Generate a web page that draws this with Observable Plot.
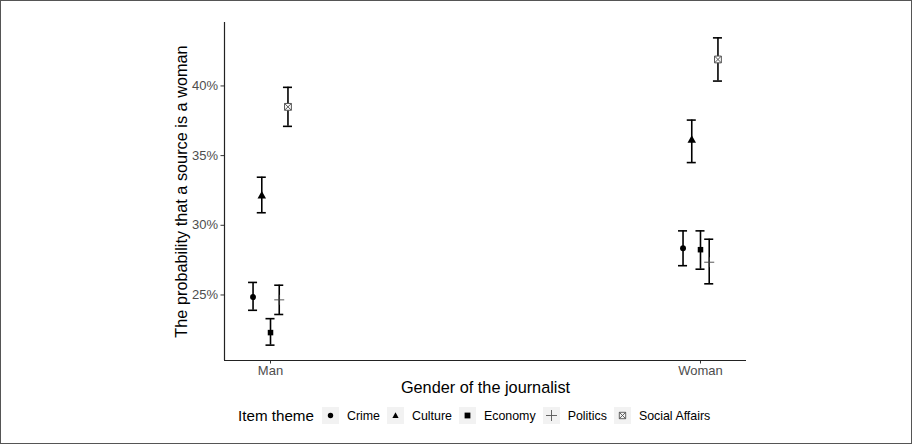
<!DOCTYPE html>
<html>
<head>
<meta charset="utf-8">
<script src="https://cdn.jsdelivr.net/npm/d3@7"></script>
<script src="https://cdn.jsdelivr.net/npm/@observablehq/plot@0.6"></script>
<style>
  html, body { margin: 0; padding: 0; background: #fff; }
  #wrap { position: relative; width: 912px; height: 444px; box-sizing: border-box; border: 1px solid #555; font-family: "Liberation Sans", Arial, sans-serif; overflow: hidden; }
  #legend { position: absolute; left: 237px; top: 406px; display: flex; align-items: center; font-family: "Liberation Sans", Arial, sans-serif; }
  #legend .title { font-size: 15.2px; color: #000; margin-right: 8px; }
  #legend .key { width: 17px; height: 17px; background: #F2F2F2; display: flex; align-items: center; justify-content: center; }
  #legend .lab { font-size: 12.4px; color: #000; margin: 0 7px 0 8px; }
</style>
</head>
<body>
<div id="wrap"><div id="chart"></div><div id="legend"></div></div>
<script>
const genders = ["Man", "Woman"];
const themes = ["Crime", "Culture", "Economy", "Politics", "Social Affairs"];
const estMan   = [0.2485, 0.3210, 0.2230, 0.2465, 0.3850];
const loMan    = [0.2390, 0.3090, 0.2140, 0.2360, 0.3710];
const hiMan    = [0.2590, 0.3345, 0.2330, 0.2570, 0.3990];
const estWoman = [0.2835, 0.3610, 0.2825, 0.2735, 0.4190];
const loWoman  = [0.2710, 0.3450, 0.2685, 0.2580, 0.4035];
const hiWoman  = [0.2960, 0.3755, 0.2960, 0.2900, 0.4345];
const yTicks = [0.25, 0.30, 0.35, 0.40];
const xTitle = "Gender of the journalist";
const yTitle = "The probability that a source is a woman";
const legendTitle = "Item theme";

const est = [estMan, estWoman], lo = [loMan, loWoman], hi = [hiMan, hiWoman];
const dodge = 0.0203;
const rows = [];
genders.forEach((g, gi) => themes.forEach((t, ti) => {
  rows.push({gender: g, theme: t, x: gi + (ti - 2) * dodge, est: est[gi][ti], lo: lo[gi][ti], hi: hi[gi][ti]});
}));

const allLo = d3.min(rows, d => d.lo), allHi = d3.max(rows, d => d.hi);
const pad = (allHi - allLo) * 0.05;
const yDomain = [allLo - pad, allHi + pad];
const xDomain = [-0.107, 1.107];
const cap = 0.0105;

const plusSym = {draw(ctx, size) { const r = Math.sqrt(size / Math.PI); ctx.moveTo(-r, 0); ctx.lineTo(r, 0); ctx.moveTo(0, -r); ctx.lineTo(0, r); }};
const sqCross = {draw(ctx, size) { const r = Math.sqrt(size / Math.PI); ctx.moveTo(-r, -r); ctx.lineTo(r, -r); ctx.lineTo(r, r); ctx.lineTo(-r, r); ctx.closePath(); ctx.moveTo(-r, -r); ctx.lineTo(r, r); ctx.moveTo(r, -r); ctx.lineTo(-r, r); }};
const filledSym = {"Crime": "circle", "Culture": "triangle", "Economy": "square"};
const filledR = {"Crime": 2.9, "Culture": 3.3, "Economy": 3.2};

const filled = rows.filter(d => filledSym[d.theme]);
const plus = rows.filter(d => d.theme === "Politics");
const social = rows.filter(d => d.theme === "Social Affairs");

const plot = Plot.plot({
  width: 910,
  height: 400,
  marginLeft: 223,
  marginRight: 165,
  marginTop: 21,
  marginBottom: 41,
  style: {fontFamily: "'Liberation Sans', Arial, sans-serif", background: "transparent"},
  x: {domain: xDomain, axis: null},
  y: {domain: yDomain, axis: null},
  marks: [
    Plot.axisY({ticks: yTicks, tickFormat: d3.format(".0%"), tickSize: 3.5, tickPadding: 3, fontSize: 13, color: "#4D4D4D", stroke: "#333", label: null}),
    Plot.axisX({ticks: [0, 1], tickFormat: i => genders[i], tickSize: 3.5, tickPadding: 2, fontSize: 13, color: "#4D4D4D", stroke: "#333", label: null}),
    Plot.ruleX([xDomain[0]], {stroke: "#222", strokeWidth: 1.2}),
    Plot.ruleY([yDomain[0]], {stroke: "#222", strokeWidth: 1.2}),
    Plot.ruleX(rows, {x: "x", y1: "lo", y2: "hi", stroke: "#000", strokeWidth: 1.6}),
    Plot.ruleY(rows, {y: "lo", x1: d => d.x - cap, x2: d => d.x + cap, stroke: "#000", strokeWidth: 1.6}),
    Plot.ruleY(rows, {y: "hi", x1: d => d.x - cap, x2: d => d.x + cap, stroke: "#000", strokeWidth: 1.6}),
    Plot.dot(filled, {x: "x", y: "est", symbol: d => filledSym[d.theme], r: d => filledR[d.theme], fill: "#000", stroke: "none"}),
    Plot.dot(plus, {x: "x", y: "est", symbol: plusSym, r: 5, fill: "none", stroke: "#444", strokeWidth: 0.9}),
    Plot.dot(social, {x: "x", y: "est", symbol: sqCross, r: 3.4, fill: "#fff", stroke: "#555", strokeWidth: 1}),
    Plot.text([yTitle], {text: d => d, frameAnchor: "left", textAnchor: "middle", lineAnchor: "middle", dx: -43, rotate: -90, fontSize: 16.3, fill: "#000"}),
    Plot.text([xTitle], {text: d => d, frameAnchor: "bottom", textAnchor: "middle", lineAnchor: "middle", dy: 27, fontSize: 16.3, fill: "#000"})
  ]
});
document.getElementById("chart").appendChild(plot);

// legend
const legend = document.getElementById("legend");
const t = document.createElement("span"); t.className = "title"; t.textContent = legendTitle; legend.appendChild(t);
const keySvg = {
  "Crime": '<circle cx="8.5" cy="8.5" r="2.7" fill="#000"/>',
  "Culture": '<path d="M8.5,5.3 L11.6,10.9 L5.4,10.9 Z" fill="#000"/>',
  "Economy": '<rect x="5.6" y="5.6" width="5.8" height="5.8" fill="#000"/>',
  "Politics": '<path d="M3,8.5 H14 M8.5,3 V14" stroke="#555" stroke-width="0.9" fill="none"/>',
  "Social Affairs": '<path d="M5.3,5.3 H11.7 V11.7 H5.3 Z M5.3,5.3 L11.7,11.7 M11.7,5.3 L5.3,11.7" stroke="#555" stroke-width="0.9" fill="none"/>'
};
themes.forEach(th => {
  const k = document.createElement("span"); k.className = "key";
  k.innerHTML = '<svg width="17" height="17" viewBox="0 0 17 17">' + keySvg[th] + '</svg>';
  legend.appendChild(k);
  const l = document.createElement("span"); l.className = "lab"; l.textContent = th; legend.appendChild(l);
});
</script>
</body>
</html>
